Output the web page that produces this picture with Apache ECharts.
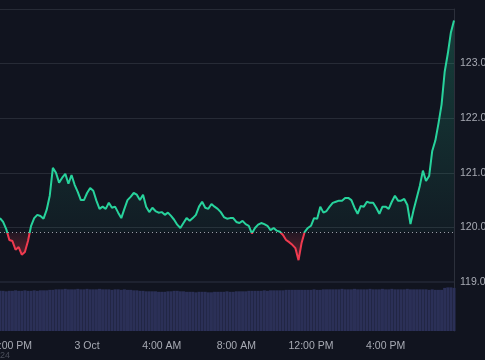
<!DOCTYPE html>
<html>
<head>
<meta charset="utf-8">
<script src="https://cdn.jsdelivr.net/npm/echarts@6/dist/echarts.min.js"></script>
<style>
html,body{margin:0;padding:0;background:#11141f;}
#c{width:485px;height:360px;}
</style>
</head>
<body>
<div id="c"></div>
<script>
// ---- data ----
const startTime = '19:20';          // 2 Oct, first sample
const stepMinutes = 10;
const baseline = 119.905;
const price = [
120.17,120.10,119.97,119.77,119.75,119.59,119.64,119.50,119.55,119.75,
120.03,120.17,120.23,120.21,120.16,120.32,120.58,121.09,121.00,120.82,
120.91,120.98,120.80,120.96,120.78,120.65,120.50,120.50,120.63,120.72,
120.67,120.49,120.34,120.38,120.34,120.45,120.36,120.38,120.27,120.17,
120.34,120.50,120.56,120.63,120.60,120.50,120.60,120.38,120.28,120.36,
120.30,120.27,120.28,120.23,120.27,120.21,120.14,120.05,119.99,120.08,
120.17,120.12,120.17,120.23,120.38,120.47,120.36,120.34,120.43,120.38,
120.34,120.28,120.19,120.16,120.17,120.17,120.10,120.08,120.12,120.06,
120.03,119.89,119.99,120.05,120.08,120.06,120.03,119.95,119.99,119.94,
119.92,119.86,119.77,119.73,119.68,119.62,119.40,119.72,119.92,119.99,
120.03,120.17,120.16,120.38,120.27,120.30,120.38,120.45,120.47,120.49,
120.49,120.54,120.54,120.50,120.36,120.25,120.39,120.38,120.47,120.45,
120.45,120.36,120.25,120.38,120.38,120.34,120.47,120.58,120.49,120.49,
120.52,120.41,120.06,120.32,120.54,120.76,121.04,120.85,120.94,121.40,
121.59,121.90,122.25,122.85,123.18,123.57,123.79
];
const volume = [
82,82,81,82,82,83,82,82,83,82,
82,83,82,83,83,83,84,84,85,85,
85,86,85,85,85,86,85,85,86,85,
85,85,86,85,85,85,84,85,85,84,
85,84,84,83,83,82,82,81,81,81,
81,80,80,80,81,81,82,82,81,81,
80,80,80,79,80,80,80,79,79,80,
80,80,80,81,80,80,81,81,81,81,
82,82,82,82,82,83,82,83,83,83,
83,83,84,84,84,84,84,84,84,84,
84,85,84,84,85,85,85,85,85,85,
86,85,85,85,86,85,85,85,85,86,
85,85,85,86,85,85,86,85,85,85,
85,86,85,85,85,85,85,85,84,85,
84,84,84,88,89,89,88
];
const tickTimes  = ['20:00','00:00','04:00','08:00','12:00','16:00'];
const tickLabels = ['8:00 PM','3 Oct','4:00 AM','8:00 AM','12:00 PM','4:00 PM'];
const priceTicks = [119, 120, 121, 122, 123, 124];

// ---- build categories (time of each sample) ----
const [sh, sm] = startTime.split(':').map(Number);
const categories = price.map((_, i) => {
  const m = (sh * 60 + sm + i * stepMinutes) % 1440;
  return String(Math.floor(m / 60)).padStart(2, '0') + ':' + String(m % 60).padStart(2, '0');
});

const GREEN = '#27d39c', RED = '#ef3a4f';
const upper = price.map(v => Math.max(v, baseline));
const lower = price.map(v => Math.min(v, baseline));

const chart = echarts.init(document.getElementById('c'), null, {renderer: 'canvas'});
chart.setOption({
  backgroundColor: '#11141f',
  animation: false,
  grid: [
    {left: 0, right: 31, top: 9, height: 273, outerBoundsMode: 'none'},
    {left: 0, right: 31, top: 282, height: 49, outerBoundsMode: 'none'}
  ],
  xAxis: [
    {type: 'category', gridIndex: 0, data: categories, boundaryGap: false,
     axisLine: {show: false}, axisTick: {show: false}, axisLabel: {show: false}, splitLine: {show: false}},
    {type: 'category', gridIndex: 1, data: categories, boundaryGap: false,
     axisLine: {show: false}, axisTick: {show: false}, splitLine: {show: false},
     axisLabel: {
       show: true, color: '#a8abb4', fontSize: 10.5, margin: 10,
       fontFamily: 'Liberation Sans, Arial, sans-serif',
       hideOverlap: false,
       interval: (idx, val) => tickTimes.indexOf(val) >= 0,
       formatter: (val) => { const k = tickTimes.indexOf(val); return k >= 0 ? tickLabels[k] : ''; }
     }}
  ],
  yAxis: [
    {type: 'value', gridIndex: 0, position: 'right', min: priceTicks[0], max: priceTicks[priceTicks.length - 1], interval: 1,
     axisLine: {show: true, lineStyle: {color: '#2c303b', width: 1}}, axisTick: {show: false},
     splitLine: {show: true, lineStyle: {color: '#272b36', width: 1}},
     axisLabel: {color: '#a8abb4', fontSize: 10.5, margin: 6, fontFamily: 'Liberation Sans, Arial, sans-serif',
       formatter: v => (v >= 124 ? '' : v.toFixed(2))}},
    {type: 'value', gridIndex: 1, position: 'right', min: 0, max: 100,
     axisLine: {show: true, lineStyle: {color: '#2c303b', width: 1}}, axisTick: {show: false},
     splitLine: {show: false}, axisLabel: {show: false}}
  ],
  visualMap: {
    show: false, type: 'piecewise', seriesIndex: 2, dimension: 1,
    pieces: [
      {lt: baseline, color: RED},
      {gte: baseline, lte: 130, color: GREEN},
      {gt: 130, color: GREEN}
    ]
  },
  series: [
    {type: 'line', xAxisIndex: 0, yAxisIndex: 0, data: upper, showSymbol: false, symbol: 'none',
     lineStyle: {width: 0}, silent: true, z: 1,
     areaStyle: {origin: baseline, color: new echarts.graphic.LinearGradient(0, 0, 0, 1, [
       {offset: 0, color: 'rgba(38,212,156,0.32)'}, {offset: 1, color: 'rgba(38,212,156,0.06)'}])},
     markLine: {symbol: 'none', silent: true, label: {show: false},
       lineStyle: {color: '#9a9da6', type: [1, 3], width: 1}, data: [{yAxis: baseline}]}
    },
    {type: 'line', xAxisIndex: 0, yAxisIndex: 0, data: lower, showSymbol: false, symbol: 'none',
     lineStyle: {width: 0}, silent: true, z: 1,
     areaStyle: {origin: baseline, color: new echarts.graphic.LinearGradient(0, 0, 0, 1, [
       {offset: 0, color: 'rgba(239,58,79,0.12)'}, {offset: 1, color: 'rgba(239,58,79,0.5)'}])}
    },
    {type: 'line', xAxisIndex: 0, yAxisIndex: 0, data: price, showSymbol: false, symbol: 'none',
     lineStyle: {width: 2}, z: 3},
    {type: 'bar', xAxisIndex: 1, yAxisIndex: 1, data: volume, barCategoryGap: '4%',
     itemStyle: {color: '#2b3057'}, silent: true}
  ],
  graphic: [
    {type: 'rect', left: 0, top: 281, shape: {width: 454, height: 2}, style: {fill: '#1e2230'}, silent: true, z: 10},
    {type: 'text', left: 0, top: 351, style: {text: '24', fill: '#4a4e5a', font: '9px Liberation Sans, Arial, sans-serif'}, silent: true}
  ]
});
</script>
</body>
</html>
